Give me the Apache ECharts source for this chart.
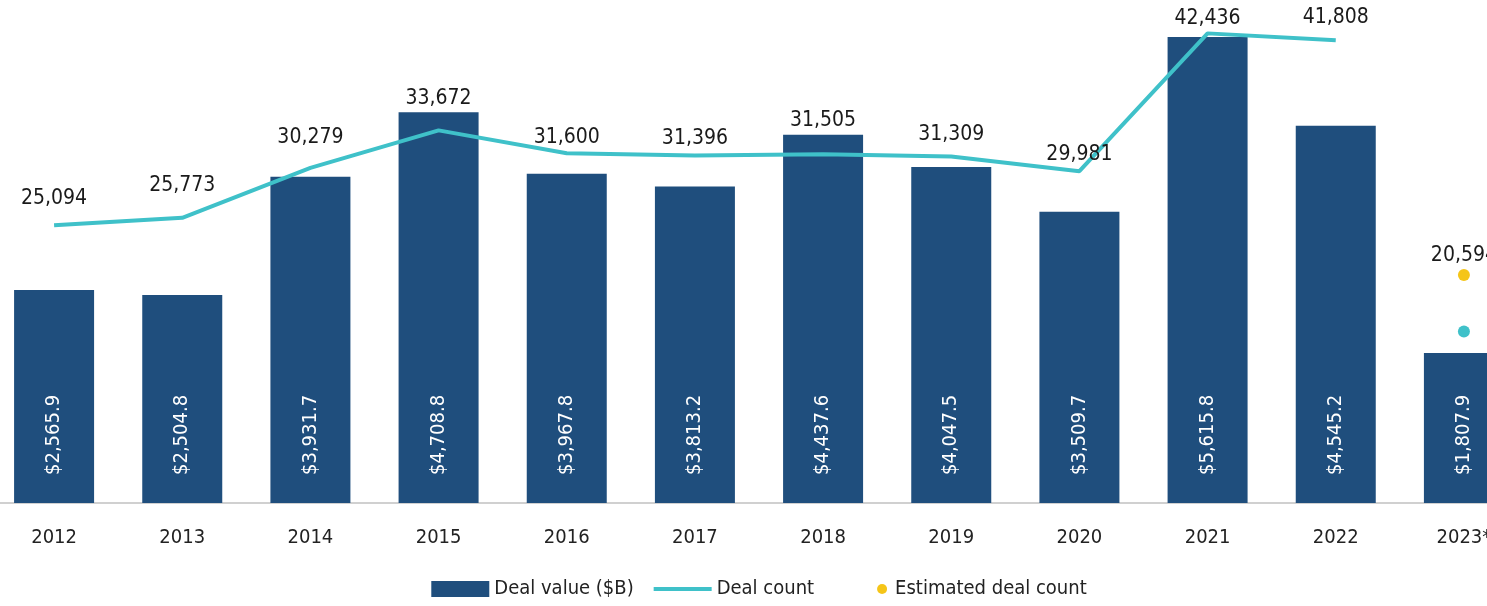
<!DOCTYPE html>
<html>
<head>
<meta charset="utf-8">
<script src="https://cdn.jsdelivr.net/npm/echarts@6/dist/echarts.min.js"></script>
<style>
	html, body { margin: 0; padding: 0; overflow: hidden; background: #fff; }
	#chart { position: absolute; left: -10px; top: 0; width: 1538px; height: 606px; }
</style>
</head>
<body>
<div id="chart"></div>
<script>
const years = ['2012', '2013', '2014', '2015', '2016', '2017', '2018', '2019', '2020', '2021', '2022', '2023*'];
const dealValue = [2565.9, 2504.8, 3931.7, 4708.8, 3967.8, 3813.2, 4437.6, 4047.5, 3509.7, 5615.8, 4545.2, 1807.9];
const dealCount = [25094, 25773, 30279, 33672, 31600, 31396, 31505, 31309, 29981, 42436, 41808];
const dealCount2023 = 15500;
const estimatedCount2023 = 20594;

// gap between each count point and its label (px)
const labelGap = [16, 22, 20, 21, 5, 7, 23, 11, 6, 4, 12];

const font = '"Liberation Sans Narrow", "DejaVu Sans Condensed", sans-serif';
const navy = '#1f4e7d';
const teal = '#3fc1c9';
const gold = '#f5c518';

let myChart = echarts.init(document.getElementById('chart'));

let option = {
	animation: false,
	textStyle: { fontFamily: font },
	grid: { left: 0, right: 0, top: 5, bottom: 103 },
	legend: {
		bottom: 2,
		left: 'center',
		itemGap: 18,
		itemWidth: 58,
		itemHeight: 16,
		textStyle: { fontFamily: font, fontSize: 20, color: '#222' },
		data: [
			{ name: 'Deal value ($B)', icon: 'rect' },
			{ name: 'Deal count', itemStyle: { opacity: 0 }, lineStyle: { width: 4 } },
			{ name: 'Estimated deal count', icon: 'path://M0,0M58,16M55,8a5,5 0 1,0 -10,0a5,5 0 1,0 10,0Z' },
		],
	},
	xAxis: {
		type: 'category',
		data: years,
		axisLine: { lineStyle: { color: '#d0d0d0', width: 2 } },
		axisTick: { show: false },
		axisLabel: { fontFamily: font, fontSize: 20, color: '#222', margin: 25 },
	},
	yAxis: [
		{ type: 'value', min: 0, max: 6000, show: false },
		{ type: 'value', min: 0, max: 45000, show: false },
	],
	series: [
		{
			name: 'Deal value ($B)',
			type: 'bar',
			barWidth: 80,
			data: dealValue,
			itemStyle: { color: navy },
			label: {
				show: true,
				position: 'insideBottom',
				rotate: 90,
				align: 'left',
				verticalAlign: 'middle',
				distance: 28,
				color: '#fff',
				fontFamily: font,
				fontSize: 20,
				formatter: (p) => '$' + p.value.toLocaleString('en-US', { minimumFractionDigits: 1 }),
			},
		},
		{
			name: 'Deal count',
			type: 'line',
			yAxisIndex: 1,
			symbol: 'circle',
			symbolSize: 0,
			lineStyle: { color: teal, width: 4 },
			itemStyle: { color: teal },
			data: dealCount.map((v, i) => ({
				value: v,
				label: {
					show: true,
					position: 'top',
					distance: labelGap[i],
					color: '#1a1a1a',
					fontFamily: font,
					fontSize: 21,
					formatter: (p) => p.value.toLocaleString('en-US'),
				},
			})),
		},
		{
			name: 'Deal count 2023',
			type: 'scatter',
			yAxisIndex: 1,
			symbolSize: 12,
			itemStyle: { color: teal, opacity: 1 },
			data: [[years[11], dealCount2023]],
		},
		{
			name: 'Estimated deal count',
			type: 'scatter',
			yAxisIndex: 1,
			symbolSize: 12,
			itemStyle: { color: gold, opacity: 1 },
			label: {
				show: true,
				position: 'top',
				distance: 3,
				color: '#1a1a1a',
				fontFamily: font,
				fontSize: 21,
				formatter: (p) => p.value[1].toLocaleString('en-US'),
			},
			data: [[years[11], estimatedCount2023]],
		},
	],
};

myChart.setOption(option);
window.addEventListener('resize', () => {
	myChart.resize();
});
</script>
</body>
</html>
